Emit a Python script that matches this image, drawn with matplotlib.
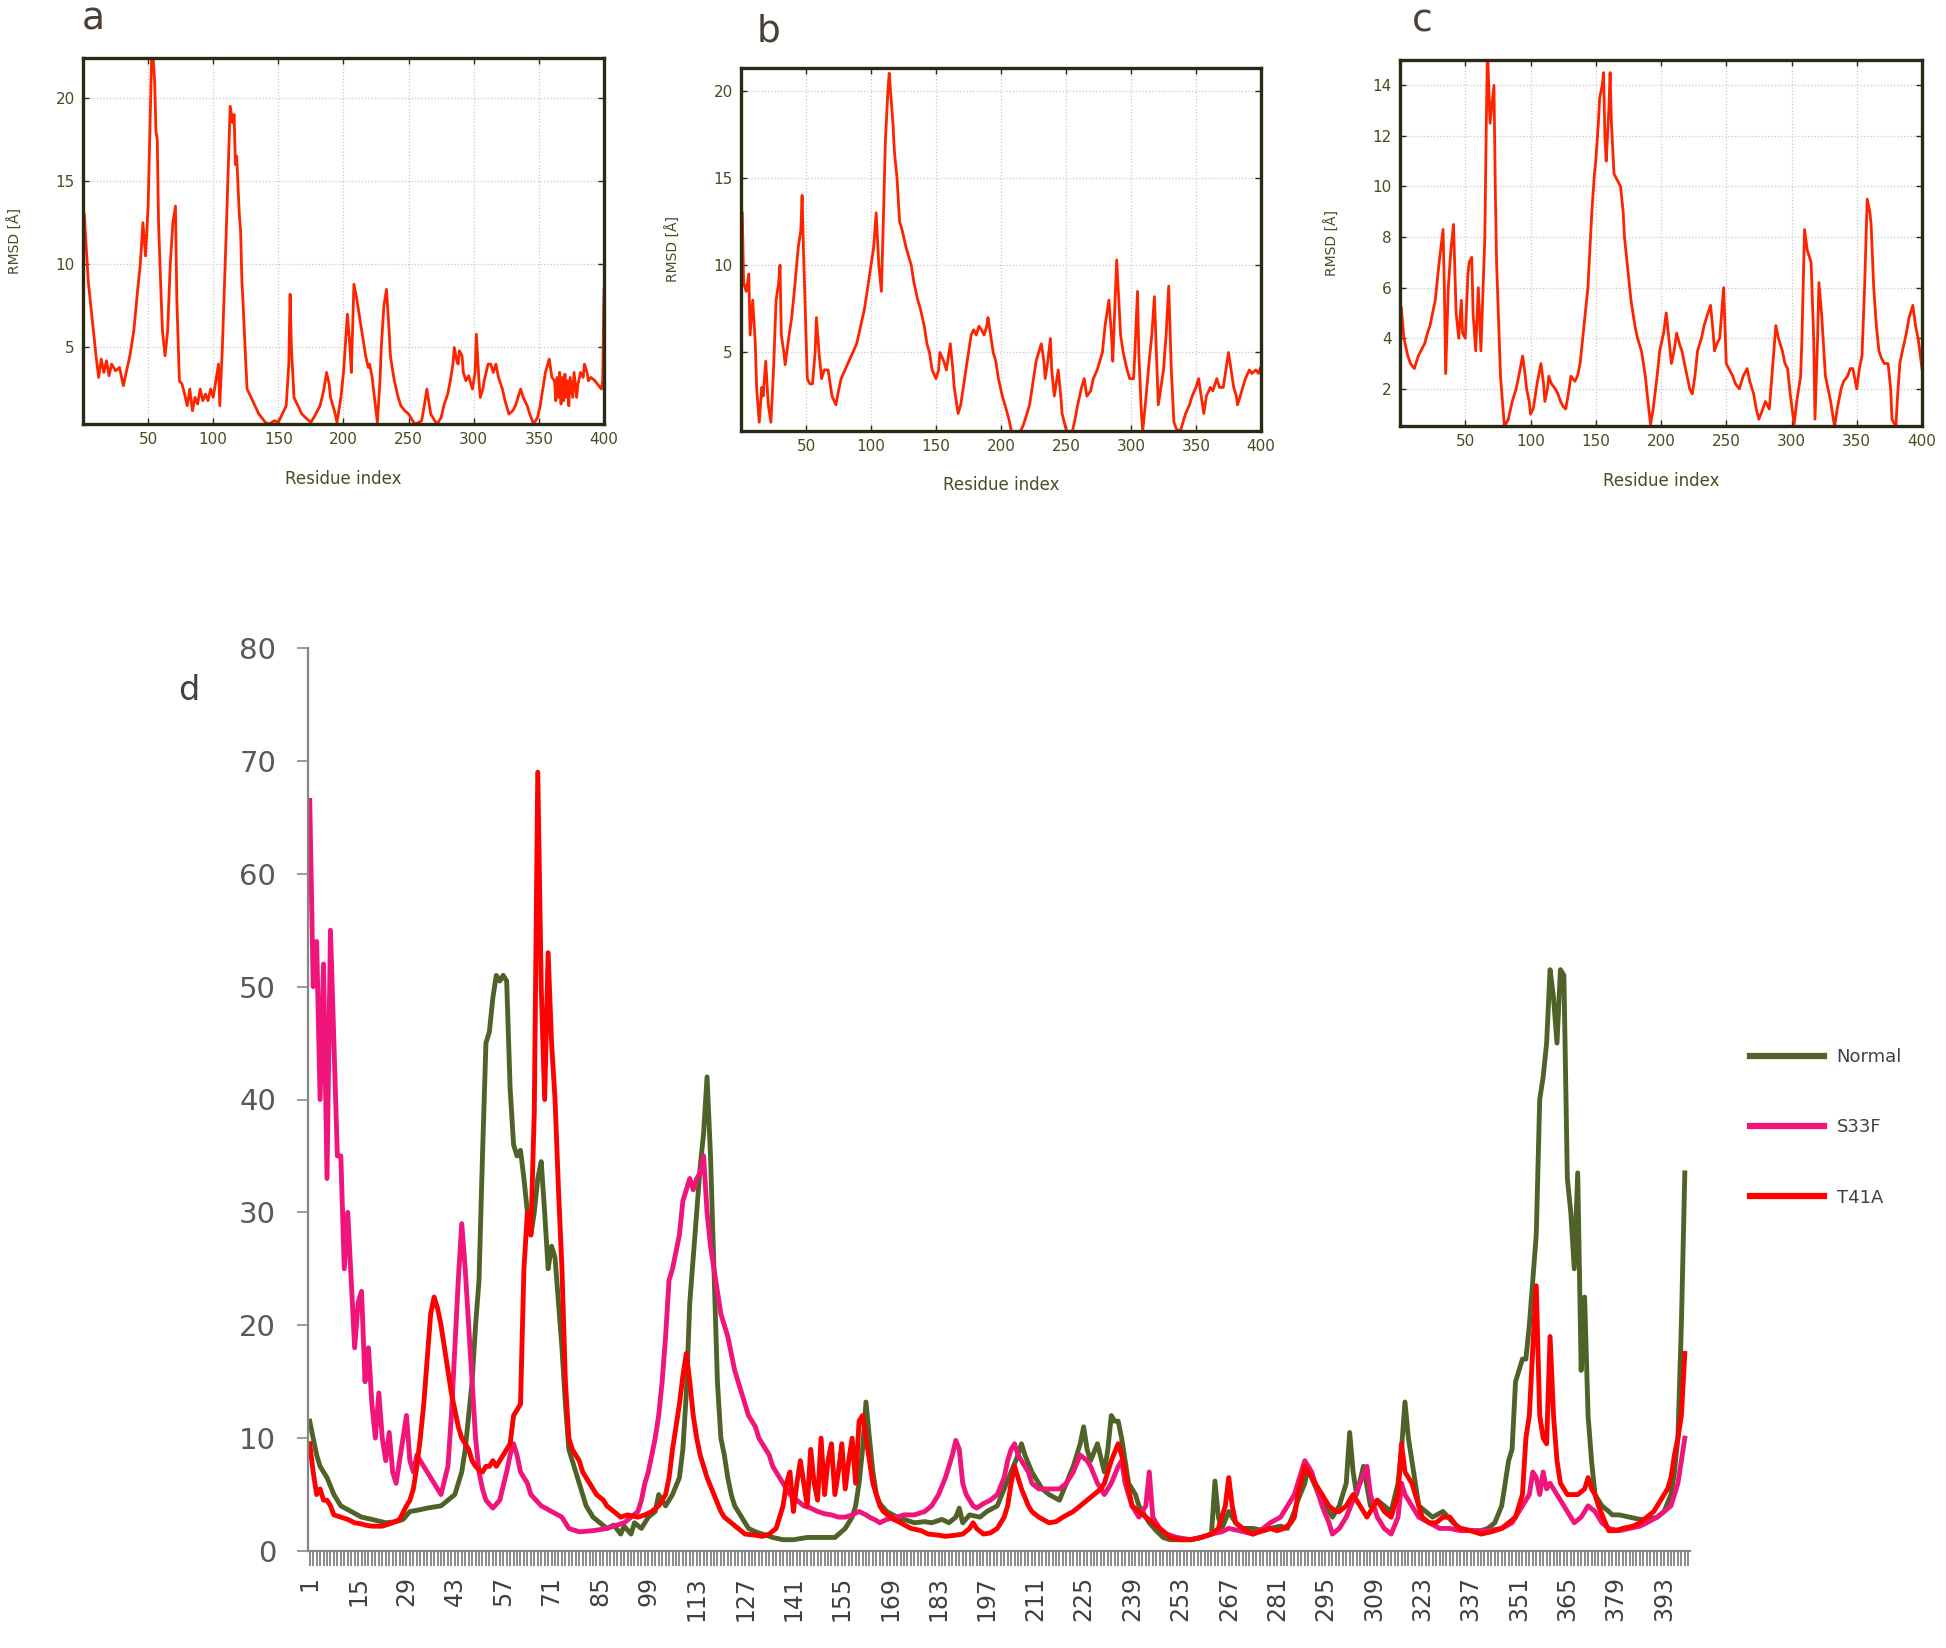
import matplotlib
matplotlib.use("Agg")
import matplotlib.pyplot as plt
from matplotlib.ticker import FixedLocator

# ---------------- data (residue, value) ----------------
panel_a = [(1,13.0),(4,9),(8,6),(10,4.5),(12,3.2),(14,4.3),(16,3.5),(18,4.2),(20,3.3),(22,4.0),
 (25,3.6),(28,3.8),(31,2.7),(34,3.8),(36,4.5),(39,6.0),(42,8.5),(44,10.0),(46,12.5),(48,10.5),
 (50,13.5),(52,20),(53,23.5),(55,21),(56,18),(57,17.5),(58,12.5),(60,8),(61,6),(63,4.5),
 (65,6),(67,10),(69,12.5),(71,13.5),(72,8),(74,3),(76,2.8),(78,2.2),(80,1.5),(82,2.5),
 (84,1.2),(86,2.0),(88,1.6),(90,2.5),(92,1.8),(94,2.2),(96,1.8),(98,2.5),(100,2.0),(102,3.0),
 (104,4.0),(105,1.5),(107,5),(110,12),(112,17),(113,19.5),(115,18.5),(116,19),(117,16),(118,16.5),
 (120,13),(121,12),(122,9),(123,7.5),(125,4),(126,2.5),(129,2),(132,1.5),(135,1.0),(137,0.8),
 (140,0.5),(143,0.4),(147,0.6),(150,0.5),(153,1.0),(156,1.5),(158,4),(159,8.2),(160,5),(162,2),
 (165,1.5),(168,1.0),(172,0.7),(175,0.5),(178,0.9),(182,1.5),(185,2.5),(187,3.5),(189,2.8),(190,2.0),
 (193,1.2),(195,0.5),(198,2.0),(200,3.5),(203,7.0),(205,5),(206,3.5),(208,8.8),(210,8),(211,7.5),
 (213,6.5),(214,6),(216,5),(217,4.5),(219,3.8),(220,4),(222,3.2),(223,2.5),(225,1.2),(226,0.5),
 (228,3),(229,5),(231,7.5),(233,8.5),(235,6),(236,4.5),(239,3),(242,2),(244,1.5),(247,1.2),
 (250,1.0),(253,0.6),(255,0.4),(258,0.5),(260,0.6),(262,1.5),(264,2.5),(266,1.5),(267,1.0),(270,0.6),
 (272,0.4),(275,0.8),(277,1.5),(280,2.2),(282,3),(284,4),(285,5),(287,4.2),(288,4),(289,4.8),
 (291,4.5),(292,3.5),(294,3),(296,3.3),(299,2.5),(301,3.5),(302,5.8),(304,3),(305,2),(307,2.5),
 (308,3),(311,4),(313,4),(315,3.5),(317,4),(319,3.2),(322,2.5),(324,1.8),(327,1.0),(330,1.2),
 (332,1.5),(334,2),(336,2.5),(338,2),(341,1.5),(343,1.0),(346,0.4),(349,0.8),(351,1.5),(353,2.5),
 (355,3.5),(358,4.3),(360,3.2),(362,3),(363,1.8),(364,3.2),(365,2.0),(366,3.5),(367,1.6),(368,3.2),
 (369,1.8),(370,3.4),(371,2.0),(372,3.0),(373,1.5),(374,3.2),(376,2.0),(377,3.5),(379,2),(380,2.8),
 (382,3.5),(384,3.2),(385,4),(387,3.5),(388,3),(390,3.2),(393,3),(395,2.8),(398,2.5),(399,3.0),(400,8.5)]

panel_b = [(1,13),(2,9),(4,8.5),(6,9.5),(7,6),(9,8),(11,5.5),(12,3),(14,1),(16,3),(17,2.5),(19,4.5),
 (21,2),(23,1),(25,4),(27,8),(29,9),(30,10),(31,6),(33,5),(34,4.3),(37,6),(39,7),(41,8.5),(44,11),
 (46,12),(47,14),(48,11),(50,6),(51,3.5),(53,3.2),(55,3.2),(57,5),(58,7),(60,5),(62,3.5),(64,4),
 (67,4),(69,3),(70,2.5),(73,2),(75,2.8),(77,3.5),(80,4),(83,4.5),(86,5),(89,5.5),(92,6.5),(95,7.5),
 (98,9),(100,10),(102,11),(104,13),(106,10),(108,8.5),(110,14),(111,17),(113,20),(114,21),(115,20),
 (117,18),(118,16.5),(120,15),(122,12.5),(124,12),(127,11),(129,10.5),(131,10),(133,9),(136,8),
 (138,7.5),(141,6.5),(143,5.5),(145,5),(147,4),(150,3.5),(152,4),(153,5),(156,4.5),(158,4),(160,5),
 (161,5.5),(163,4),(164,3),(166,2),(167,1.5),(169,2),(172,3.5),(174,4.5),(177,6),(179,6.3),(181,6),
 (183,6.5),(185,6.3),(187,6),(189,6.5),(190,7),(192,6),(194,5),(196,4.5),(198,3.5),(201,2.5),(203,2),
 (206,1.2),(208,0.5),(210,0.3),(212,0.3),(215,0.5),(217,0.8),(220,1.5),(222,2),(225,3.5),(227,4.5),
 (229,5),(231,5.5),(233,4.5),(234,3.5),(236,4.5),(238,5.8),(239,4),(241,2.5),(243,3.5),(244,4),
 (246,2.5),(247,1.5),(250,0.6),(252,0.4),(255,0.5),(257,1.2),(259,2),(262,3),(264,3.5),(266,2.5),
 (269,2.8),(271,3.5),(274,4),(276,4.5),(278,5),(280,6.5),(283,8),(285,6),(286,4.5),(288,8.5),
 (289,10.3),(291,7.5),(292,6),(294,5),(297,4),(299,3.5),(302,3.5),(303,5),(305,8.5),(306,5),(308,1.5),
 (309,0.5),(311,2),(314,4.5),(316,6),(318,8.2),(320,4),(321,2),(323,3),(325,4),(327,6),(329,8.8),
 (331,4),(333,1),(335,0.6),(338,0.5),(340,1.0),(342,1.5),(345,2),(347,2.5),(350,3),(352,3.5),
 (354,2.5),(356,1.5),(358,2.5),(361,3),(363,2.8),(366,3.5),(368,3),(371,3),(373,4),(375,5),(377,4),
 (379,3),(381,2.5),(382,2),(384,2.5),(386,3),(388,3.5),(391,4),(393,3.8),(396,4),(398,3.8),(400,4.2)]

panel_c = [(1,5.2),(3,4),(6,3.3),(8,3.0),(11,2.8),(14,3.3),(17,3.6),(19,3.8),(21,4.2),(23,4.5),
 (25,5),(27,5.5),(30,7),(33,8.3),(34,6),(35,2.6),(37,6),(39,7.5),(41,8.5),(43,5),(45,4),(47,5.5),
 (48,4.2),(50,4),(52,6.5),(53,7),(55,7.2),(56,5),(58,3.5),(60,6),(62,3.5),(63,5),(65,8),(66,12),
 (67,15.5),(69,12.5),(71,13.5),(72,14),(73,10),(74,7),(76,4),(77,2.5),(79,1.2),(80,0.5),(83,0.8),
 (86,1.5),(89,2),(91,2.5),(94,3.3),(96,2.5),(97,2),(99,1.5),(100,1),(102,1.2),(103,1.5),(105,2.2),
 (108,3),(110,2.2),(111,1.5),(113,2),(114,2.5),(116,2.2),(119,2),(121,1.8),(123,1.5),(125,1.3),
 (127,1.2),(129,1.8),(131,2.5),(134,2.3),(136,2.5),(138,3),(140,4),(142,5),(144,6),(146,8),(147,9),
 (149,10.5),(150,11),(152,12.5),(153,13.5),(155,14),(156,14.5),(157,12),(158,11),(160,13),(161,14.5),
 (162,12.5),(164,10.5),(166,10.3),(169,10),(171,9),(172,8),(175,6.5),(177,5.5),(180,4.5),(182,4),
 (185,3.5),(188,2.5),(190,1.5),(192,0.6),(194,1.2),(197,2.5),(199,3.5),(202,4.2),(204,5),(206,4),
 (208,3),(210,3.5),(212,4.2),(214,3.8),(216,3.5),(218,3),(220,2.5),(222,2),(224,1.8),(226,2.5),
 (228,3.5),(231,4),(233,4.5),(236,5),(238,5.3),(240,4.2),(241,3.5),(243,3.8),(245,4),(248,6),(250,3),
 (252,2.8),(255,2.5),(257,2.2),(260,2),(263,2.5),(266,2.8),(268,2.3),(271,1.8),(273,1.2),(275,0.8),
 (278,1.2),(280,1.5),(283,1.2),(285,2.5),(288,4.5),(290,4),(293,3.5),(295,3),(297,2.8),(299,1.8),
 (302,0.6),(304,1.5),(307,2.5),(308,4),(310,8.3),(312,7.5),(315,7),(317,4),(318,0.8),(320,4),
 (321,6.2),(323,5),(326,2.5),(328,2),(330,1.5),(333,0.5),(335,1.2),(338,2),(340,2.3),(343,2.5),
 (345,2.8),(347,2.8),(350,2),(352,2.8),(354,3.3),(356,6),(358,9.5),(360,9),(361,8.5),(363,6),
 (365,4.5),(367,3.5),(369,3.2),(371,3),(374,3),(376,2),(377,0.8),(380,0.5),(381,1.5),(383,3),
 (385,3.5),(388,4.2),(390,4.8),(393,5.3),(395,4.5),(397,4),(399,3.2),(400,2.8)]

normal = [(1,11.5),(2,10),(3,8.5),(4,7.5),(6,6.5),(8,5),(10,4),(13,3.5),(16,3),(19,2.8),(23,2.5),
 (26,2.6),(28,2.8),(30,3.5),(32,3.6),(35,3.8),(37,3.9),(39,4.0),(41,4.5),(43,5),(45,7),(46,9),(47,12),
 (48,15),(49,20),(50,24),(51,35),(52,45),(53,46),(54,49),(55,51),(56,50.5),(57,51),(58,50.5),(59,41),
 (60,36),(61,35),(62,35.5),(63,33),(64,30),(65,28),(66,30),(67,33),(68,34.5),(69,30),(70,25),(71,27),
 (72,26),(73,22),(74,18),(75,13),(76,9),(77,8),(79,6),(81,4),(83,3),(85,2.5),(87,2),(89,2.3),(91,1.5),
 (92,2.2),(94,1.5),(95,2.5),(97,2),(99,3),(101,3.5),(102,5),(103,4.5),(104,4),(106,5),(108,6.5),
 (109,9),(110,14),(111,22),(112,26),(113,30),(114,34),(115,37),(116,42),(117,35),(118,25),(119,15),
 (120,10),(121,8.5),(122,6.5),(123,5),(124,4),(126,3),(128,2),(130,1.7),(132,1.5),(135,1.2),(138,1.0),
 (141,1.0),(145,1.2),(149,1.2),(153,1.2),(156,2),(158,3),(159,4),(160,6),(161,9),(162,13.2),(163,10),
 (164,7),(165,5),(166,4.2),(168,3.5),(171,3),(173,2.8),(176,2.5),(179,2.6),(181,2.5),(184,2.8),
 (186,2.5),(188,3),(189,3.8),(190,2.5),(192,3.2),(195,3),(197,3.5),(200,4),(202,5.5),(204,7),
 (206,8.5),(207,9.5),(208,8.5),(210,7),(212,6),(213,5.5),(215,5),(218,4.5),(220,6),(222,7.5),
 (224,9.5),(225,11),(226,9),(227,8),(229,9.5),(231,7),(232,9),(233,12),(234,11.5),(235,11.5),
 (236,10),(237,8),(238,6),(240,5),(241,4),(243,3),(244,2.5),(246,1.8),(248,1.2),(250,1),(253,1),
 (256,1),(259,1.2),(262,1.5),(263,6.2),(264,3),(265,2),(267,3.5),(269,2.5),(271,2),(274,2),(277,1.8),
 (279,2),(282,2.2),(284,2),(286,3.5),(287,4.5),(289,6),(290,7.5),(291,6.5),(293,5),(295,4),(297,3),
 (299,4),(301,6),(302,10.5),(303,7),(304,5),(306,7.5),(308,4),(310,4.5),(312,4),(314,3.5),(316,6),
 (317,9),(318,13.2),(319,10),(320,8),(322,4),(324,3.5),(326,3),(329,3.5),(332,2.5),(334,2),(337,1.8),
 (340,1.8),(342,2),(344,2.5),(346,4),(347,6),(348,8),(349,9),(350,15),(351,16),(352,17),(353,17),
 (354,20),(355,24),(356,28),(357,40),(358,42),(359,45),(360,51.5),(361,49),(362,45),(363,51.5),
 (364,51),(365,33),(366,30),(367,25),(368,33.5),(369,16),(370,22.5),(371,12),(372,8),(373,5),(375,4),
 (377,3.5),(378,3.2),(380,3.2),(383,3),(386,2.8),(388,2.8),(391,3),(393,3.5),(395,5),(396,7),
 (397,10),(398,20),(399,33.5)]

s33f = [(1,66.5),(2,50),(3,54),(4,40),(5,52),(6,33),(7,55),(8,45),(9,35),(10,35),(11,25),(12,30),
 (13,24),(14,18),(15,22),(16,23),(17,15),(18,18),(19,13),(20,10),(21,14),(22,10),(23,8),(24,10.5),
 (25,7),(26,6),(27,8),(28,10),(29,12),(30,8),(31,7),(32,8.5),(34,7.5),(36,6.5),(37,6),(39,5),(41,7.5),
 (42,12),(43,18),(44,24),(45,29),(46,25),(47,20),(48,15),(49,10),(50,7),(51,5.5),(52,4.5),(54,3.8),
 (56,4.5),(58,7),(59,8.5),(60,9.5),(61,8.5),(62,7),(64,6),(65,5),(68,4),(71,3.5),(74,3),(76,2),
 (79,1.7),(83,1.8),(87,2),(92,2.5),(94,3),(96,3.5),(97,4.5),(98,6),(99,7),(100,8.5),(101,10),(102,12),
 (103,15),(104,19),(105,24),(106,25),(107,26.5),(108,28),(109,31),(110,32),(111,33),(112,32),(113,33),
 (114,33.5),(115,35),(116,30),(117,27),(118,25),(119,23),(120,21),(121,20),(122,19),(123,17.5),
 (124,16),(125,15),(126,14),(127,13),(128,12),(129,11.5),(130,11),(131,10),(132,9.5),(133,9),
 (134,8.5),(135,7.5),(137,6.5),(138,6),(140,5),(142,4.5),(144,4),(146,3.8),(148,3.5),(150,3.3),
 (152,3.2),(154,3),(156,3),(158,3.2),(160,3.5),(162,3.2),(163,3),(165,2.7),(166,2.5),(168,2.8),
 (171,3),(173,3.2),(176,3.2),(179,3.5),(181,4),(183,5),(185,6.5),(187,8.5),(188,9.8),(189,9),(190,6),
 (191,5),(193,4),(194,3.8),(196,4.2),(198,4.5),(200,5),(202,6.5),(203,8),(204,9),(205,9.5),(206,8.5),
 (207,8),(209,7),(210,6),(212,5.5),(214,5.5),(216,5.5),(218,5.5),(220,6),(222,7),(224,8.5),(226,8),
 (227,7.5),(229,6),(231,5),(233,6),(235,7.5),(236,8),(237,6),(239,4),(241,3),(243,4),(244,7),(245,3),
 (247,2),(249,1.5),(252,1.2),(256,1),(259,1.2),(262,1.5),(265,1.7),(267,2),(270,1.8),(274,1.5),
 (277,2),(279,2.5),(282,3),(284,4),(286,5),(288,7),(289,8),(291,7),(292,6),(294,4),(296,2.5),
 (297,1.5),(299,2),(301,3),(303,4.5),(305,6),(307,7.5),(308,5),(310,3),(312,2),(314,1.5),(316,3),
 (317,6),(318,5),(320,4),(322,3),(325,2.5),(328,2),(331,2),(334,1.8),(338,1.8),(342,1.8),(346,2),
 (349,2.5),(352,4),(354,5),(355,7),(356,6.5),(357,5),(358,7),(359,5.5),(360,6),(362,5),(364,4),
 (366,3),(367,2.5),(369,3),(371,4),(373,3.5),(375,2.5),(377,2),(380,1.8),(383,2),(386,2.2),(388,2.5),
 (391,3),(393,3.5),(395,4),(396,5),(397,6),(398,8),(399,10)]

t41a = [(1,9.5),(2,7),(3,5),(4,5.5),(5,4.5),(6,4.5),(7,4),(8,3.2),(10,3.0),(12,2.8),(14,2.5),(16,2.4),
 (17,2.3),(19,2.2),(22,2.2),(25,2.5),(27,2.8),(29,4),(30,4.5),(31,5.5),(32,7.5),(33,10),(34,13),
 (35,17),(36,21),(37,22.5),(38,21.5),(39,20),(40,18),(41,16),(42,14),(43,12.5),(44,11),(45,10),
 (46,9.5),(47,9),(48,8),(49,7.5),(50,7.2),(51,7),(52,7.5),(53,7.5),(54,8),(55,7.5),(56,8),(57,8.5),
 (58,9),(59,9.5),(60,12),(61,12.5),(62,13),(63,25),(64,30),(65,28),(66,39),(67,69),(68,50),(69,40),
 (70,53),(71,45),(72,40),(73,32),(74,25),(75,15),(76,10),(77,9),(78,8.5),(79,8),(80,7),(81,6.5),
 (82,6),(84,5),(86,4.5),(87,4),(89,3.5),(91,3),(93,3.2),(96,3),(98,3.2),(100,3.5),(102,4),(104,5),
 (105,6.5),(106,9),(107,11),(108,13),(109,15.5),(110,17.5),(111,15),(112,12),(113,10),(114,8.5),
 (115,7.5),(116,6.5),(118,5),(120,3.5),(121,3),(123,2.5),(125,2),(127,1.5),(130,1.4),(132,1.3),
 (134,1.5),(136,2),(137,3),(138,4),(139,6),(140,7),(141,3.5),(142,6),(143,8),(144,6),(145,4),(146,9),
 (147,6),(148,4.5),(149,10),(150,5),(151,8),(152,9.5),(153,5),(154,7),(155,9.5),(156,5.5),(157,8),
 (158,10),(159,6),(160,11.5),(161,12),(162,10),(163,8),(164,6),(165,5),(166,4),(167,3.5),(170,2.8),
 (172,2.5),(175,2),(178,1.8),(180,1.5),(183,1.4),(185,1.3),(188,1.4),(190,1.5),(192,2),(193,2.5),
 (194,2),(196,1.5),(198,1.6),(200,2),(202,3),(203,4),(204,6),(205,7.5),(206,6.5),(207,5.5),(209,4),
 (210,3.5),(212,3),(215,2.5),(217,2.6),(219,3),(222,3.5),(224,4),(226,4.5),(228,5),(230,5.5),(231,6),
 (233,8),(235,9.5),(236,8.5),(237,7),(238,5.5),(239,4),(241,3.5),(243,3),(245,2.5),(247,2),(249,1.5),
 (250,1.2),(253,1),(256,1),(259,1.2),(262,1.5),(264,2),(266,4),(267,6.5),(268,4),(269,2.5),(271,2),
 (274,1.5),(277,1.8),(279,2),(281,1.8),(283,2),(285,2.5),(286,3),(287,5),(289,7.5),(290,7),(292,6),
 (294,5),(296,4),(298,3.5),(299,3.5),(301,4),(303,5),(305,4),(307,3),(309,4),(310,4.5),(312,3.5),
 (314,3),(316,5),(317,9.5),(318,7),(320,6),(322,4),(323,3),(325,2.5),(327,2.5),(329,3),(331,3),
 (333,2.2),(334,2),(337,1.8),(340,1.5),(343,1.7),(346,2),(348,2.5),(350,3),(351,4),(352,5),(353,10),
 (354,12),(355,18),(356,23.5),(357,12),(358,10),(359,9.5),(360,19),(361,12),(362,8),(363,6),
 (364,5.5),(365,5),(367,5),(368,5),(370,5.5),(371,6.5),(372,5.5),(373,5),(374,4),(376,2.5),(377,1.8),
 (379,1.8),(381,2),(384,2.2),(386,2.5),(388,3),(390,3.5),(392,4.5),(394,5.5),(395,6.5),(396,8.5),
 (397,10),(398,12),(399,17.5)]

series_names = ["Normal", "S33F", "T41A"]
d_xtick_labels = [str(v) for v in range(1, 394, 14)]
n_categories = 400

# ---------------- figure ----------------
W, H = 1946, 1648
fig = plt.figure(figsize=(W / 100, H / 100), dpi=100)
plt.rcParams['font.family'] = ['DejaVu Sans']

frame_col = '#2a2a14'
txt_col = '#4b4b24'
line_red = '#ff2400'

def rect(l, t, r, b):
    return [l / W, 1 - b / H, (r - l) / W, (b - t) / H]

def small_panel(box, pts, ylim, yticks, letter, letter_xy):
    ax = fig.add_axes(rect(*box))
    xs, ys = zip(*pts)
    ax.plot(xs, ys, color=line_red, lw=2.0, solid_joinstyle='round')
    ax.set_xlim(0, 400)
    ax.set_ylim(*ylim)
    ax.set_xticks(range(50, 401, 50))
    ax.set_yticks(yticks)
    ax.grid(True, color='#c9c9c9', linestyle=':', linewidth=0.9)
    for s in ax.spines.values():
        s.set_color(frame_col)
        s.set_linewidth(2.4)
    ax.tick_params(direction='in', top=True, right=True, length=4, width=1,
                   color=frame_col, labelcolor=txt_col, labelsize=11, pad=6)
    ax.set_xlabel('Residue index', fontsize=12, color=txt_col)
    ax.set_ylabel('RMSD [Å]', fontsize=10, color=txt_col)
    ax.xaxis.set_label_coords(0.5, -0.125)
    ax.yaxis.set_label_coords(-0.115, 0.5)
    fig.text(letter_xy[0] / W, 1 - letter_xy[1] / H, letter, fontsize=27,
             color='#4a4036', ha='center', va='center')
    return ax

small_panel((83, 58, 604, 424), panel_a, (0.4, 22.4), [5, 10, 15, 20], 'a', (93, 19))
small_panel((741, 68, 1261, 431), panel_b, (0.5, 21.3), [5, 10, 15, 20], 'b', (768, 31))
small_panel((1400, 60, 1922, 426), panel_c, (0.53, 15.0), [2, 4, 6, 8, 10, 12, 14], 'c', (1422, 22))

# ---------------- panel d ----------------
axd = fig.add_axes(rect(308, 648, 1690, 1551))
colors = ['#4f6228', '#f0157a', '#ff0000']
for name, pts, col in zip(series_names, [normal, s33f, t41a], colors):
    xs, ys = zip(*pts)
    axd.plot(xs, ys, color=col, lw=3.5, label=name, solid_joinstyle='round')

axd.set_xlim(0.5, n_categories + 0.5)
axd.set_ylim(0, 80)
axd.set_yticks(range(0, 81, 10))
label_pos = [int(v) for v in d_xtick_labels]
axd.set_xticks(label_pos)
axd.set_xticklabels(d_xtick_labels, rotation=90, ha='center', va='top')
axd.xaxis.set_minor_locator(FixedLocator(list(range(1, n_categories + 1))))
for side in ['top', 'right']:
    axd.spines[side].set_visible(False)
for side in ['left', 'bottom']:
    axd.spines[side].set_color('#868686')
    axd.spines[side].set_linewidth(1.6)
axd.tick_params(axis='x', which='both', direction='out', length=11, width=1.4,
                color='#8a8a8a', labelsize=17, labelcolor='#404040', pad=7)
axd.tick_params(axis='y', direction='out', length=8, width=1.2, color='#8a8a8a',
                labelsize=21, labelcolor='#595959', pad=15)

fig.text(189 / W, 1 - 691 / H, 'd', fontsize=24, color='#404040', ha='center', va='center')

leg = fig.legend(loc='upper left', bbox_to_anchor=(1750 / W, 1 - 1048 / H), frameon=False,
                 fontsize=13, handlelength=4.1, handletextpad=0.7, labelspacing=2.9,
                 borderpad=0, borderaxespad=0)
for h in leg.get_lines():
    h.set_linewidth(4.5)
for t in leg.get_texts():
    t.set_color('#404040')

fig.savefig('out.png', dpi=100)
